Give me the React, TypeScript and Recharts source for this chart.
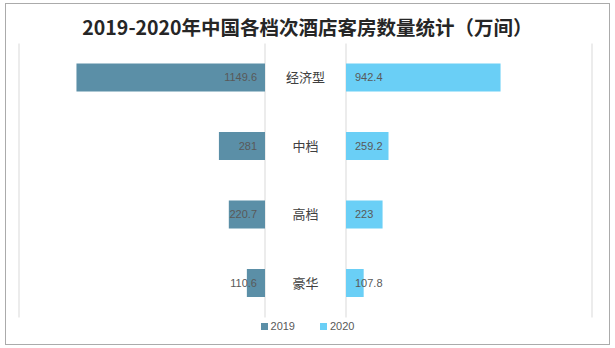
import { BarChart, Bar, XAxis, YAxis, CartesianGrid, LabelList } from 'recharts';

const categories = ['经济型', '中档', '高档', '豪华'];
const rooms2019 = [1149.6, 281, 220.7, 110.6];
const rooms2020 = [942.4, 259.2, 223, 107.8];
const axisTicks = [0, 500, 1000, 1500];

const COLOR_2019 = '#5b8fa7';
const COLOR_2020 = '#6acff6';
const GRID = '#d9d9d9';
const LABEL_FONT = '"Liberation Sans", Arial, sans-serif';
const CJK_FONT = '"Noto Sans CJK SC", "Noto Sans", sans-serif';

const rows = categories.map((name, i) => ({ name, y2019: rooms2019[i], y2020: rooms2020[i] }));

function LeftLabel({ x, y, width, height, value }: any) {
  const right = Math.max(x, x + width);
  return (
    <text x={right - 8} y={y + height / 2} dy="0.35em" textAnchor="end"
      fill="#595959" fontSize={11} fontFamily={LABEL_FONT}>
      {value}
    </text>
  );
}

function RightLabel({ x, y, width, height, value }: any) {
  const left = Math.min(x, x + width);
  return (
    <text x={left + 9} y={y + height / 2} dy="0.35em" textAnchor="start"
      fill="#595959" fontSize={11} fontFamily={LABEL_FONT}>
      {value}
    </text>
  );
}

// category names sit centred in the gap between the two halves
function CategoryTick({ x, y, payload }: any) {
  return (
    <text x={x - 40.5} y={y} dy="0.35em" textAnchor="middle"
      fill="#404040" fontSize={13} fontFamily={CJK_FONT}>
      {payload.value}
    </text>
  );
}

function LegendBox({ color, label }: { color: string; label: string }) {
  return (
    <span style={{ display: 'inline-flex', alignItems: 'center', marginRight: 25 }}>
      <span style={{ width: 7, height: 7, background: color, display: 'inline-block', marginRight: 3 }} />
      <span>{label}</span>
    </span>
  );
}

export default function App() {
  return (
    <div style={{ position: 'absolute', left: 0, top: 0, width: 615, height: 348, background: '#fff', fontFamily: LABEL_FONT }}>
      <div style={{ position: 'absolute', left: 5, top: 3, width: 603, height: 340, border: '1px solid #ababab' }} />
      <div style={{
        position: 'absolute', left: 0, top: 14, width: 615, textAlign: 'center',
        fontSize: 19.5, fontWeight: 'bold', color: '#262626', fontFamily: CJK_FONT, lineHeight: '26px',
      }}>
        2019-2020年中国各档次酒店客房数量统计（万间）
      </div>

      <div style={{ position: 'absolute', left: 0, top: 0 }}>
        <BarChart layout="vertical" width={270} height={348} data={rows} barSize={28}
          margin={{ top: 43.5, right: 5, bottom: 30.5, left: 19 }}>
          <CartesianGrid horizontal={false} stroke={GRID} />
          <XAxis type="number" domain={[0, 1500]} ticks={axisTicks} reversed
            tick={false} axisLine={false} tickLine={false} height={0} />
          <YAxis type="category" dataKey="name" hide />
          <Bar dataKey="y2019" fill={COLOR_2019} isAnimationActive={false}>
            <LabelList dataKey="y2019" content={LeftLabel} />
          </Bar>
        </BarChart>
      </div>

      <div style={{ position: 'absolute', left: 265, top: 0 }}>
        <BarChart layout="vertical" width={340} height={348} data={rows} barSize={28}
          margin={{ top: 43.5, right: 13, bottom: 30.5, left: 0 }}>
          <CartesianGrid horizontal={false} stroke={GRID} />
          <XAxis type="number" domain={[0, 1500]} ticks={axisTicks}
            tick={false} axisLine={false} tickLine={false} height={0} />
          <YAxis type="category" dataKey="name" width={81} axisLine={false} tickLine={false}
            tickSize={0} tickMargin={0} tick={<CategoryTick />} />
          <Bar dataKey="y2020" fill={COLOR_2020} isAnimationActive={false}>
            <LabelList dataKey="y2020" content={RightLabel} />
          </Bar>
        </BarChart>
      </div>

      <div style={{
        position: 'absolute', left: 0, top: 319, width: 615, display: 'flex', justifyContent: 'center',
        fontSize: 11, color: '#595959', lineHeight: '14px', paddingLeft: 25, boxSizing: 'border-box',
      }}>
        <LegendBox color={COLOR_2019} label="2019" />
        <LegendBox color={COLOR_2020} label="2020" />
      </div>
    </div>
  );
}
